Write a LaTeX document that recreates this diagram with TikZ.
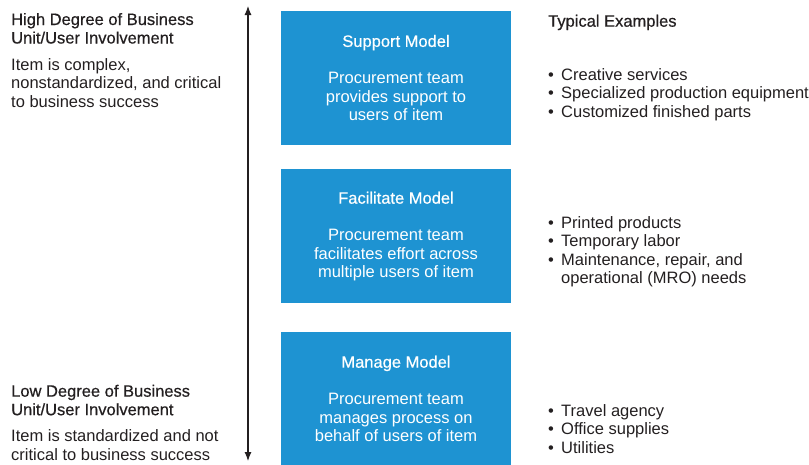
\documentclass[tikz,border=0pt]{standalone}
\usepackage{fontspec}
\setmainfont{Liberation Sans}
\newfontfamily\headfont[FakeBold=0.5]{Liberation Sans}
\usetikzlibrary{arrows.meta,positioning}
\definecolor{modelblue}{RGB}{30,147,210}
\definecolor{inkgrey}{RGB}{35,31,32}
\newcommand{\bul}[1]{\makebox[13pt][l]{\textbullet}#1}
\newcommand{\cont}[1]{\hspace*{13pt}#1}

\begin{document}
\begin{tikzpicture}[x=1pt,y=-1pt]
\tikzset{every node/.style={font=\fontsize{16.5}{18.5}\selectfont, text=inkgrey}} % one text size for the whole figure
\tikzset{model/.style={fill=modelblue, text=white, minimum width=230pt, minimum height=134pt, align=center, inner sep=0pt}} % blue model boxes
\tikzset{side/.style={anchor=base west, align=left, inner sep=0pt}} % texts left and right of the boxes (placed at last baseline)
\tikzset{head/.style={side, font=\fontsize{16.5}{18.5}\headfont}}
\useasboundingbox (0,0) rectangle (809,464);

% the three models
\node[model] (support) at (396,78) {{\headfont Support Model}\\[18.5pt]Procurement team\\provides support to\\users of item};
\node[model, below=24pt of support] (facilitate) {{\headfont Facilitate Model}\\[18.5pt]Procurement team\\facilitates effort across\\multiple users of item};
\node[model, below=28pt of facilitate] (manage) {{\headfont Manage Model}\\[18.5pt]Procurement team\\manages process on\\behalf of users of item};

% involvement axis
\coordinate (high) at (248,6);
\coordinate (low) at (248,461);
\draw[{Latex[length=9pt,width=7pt]}-{Latex[length=9pt,width=7pt]}, line width=1.1pt, inkgrey] (high) -- (low);

% left side
\node[head] (hihead) at (11,43.5) {High Degree of Business\\Unit/User Involvement};
\node[side] (hitext) at (11,107) {Item is complex,\\nonstandardized, and critical\\to business success};
\node[head] (lohead) at (11,415.2) {Low Degree of Business\\Unit/User Involvement};
\node[side] (lotext) at (11,460.2) {Item is standardized and not\\critical to business success};

% right side
\node[head] (examples) at (548,26.7) {Typical Examples};
\node[side] (supportex) at (548,117) {\bul{Creative services}\\\bul{Specialized production equipment}\\\bul{Customized finished parts}};
\node[side] (facilitateex) at (548,283.5) {\bul{Printed products}\\\bul{Temporary labor}\\\bul{Maintenance, repair, and}\\\cont{operational (MRO) needs}};
\node[side] (manageex) at (548,453) {\bul{Travel agency}\\\bul{Office supplies}\\\bul{Utilities}};
\end{tikzpicture}
\end{document}
